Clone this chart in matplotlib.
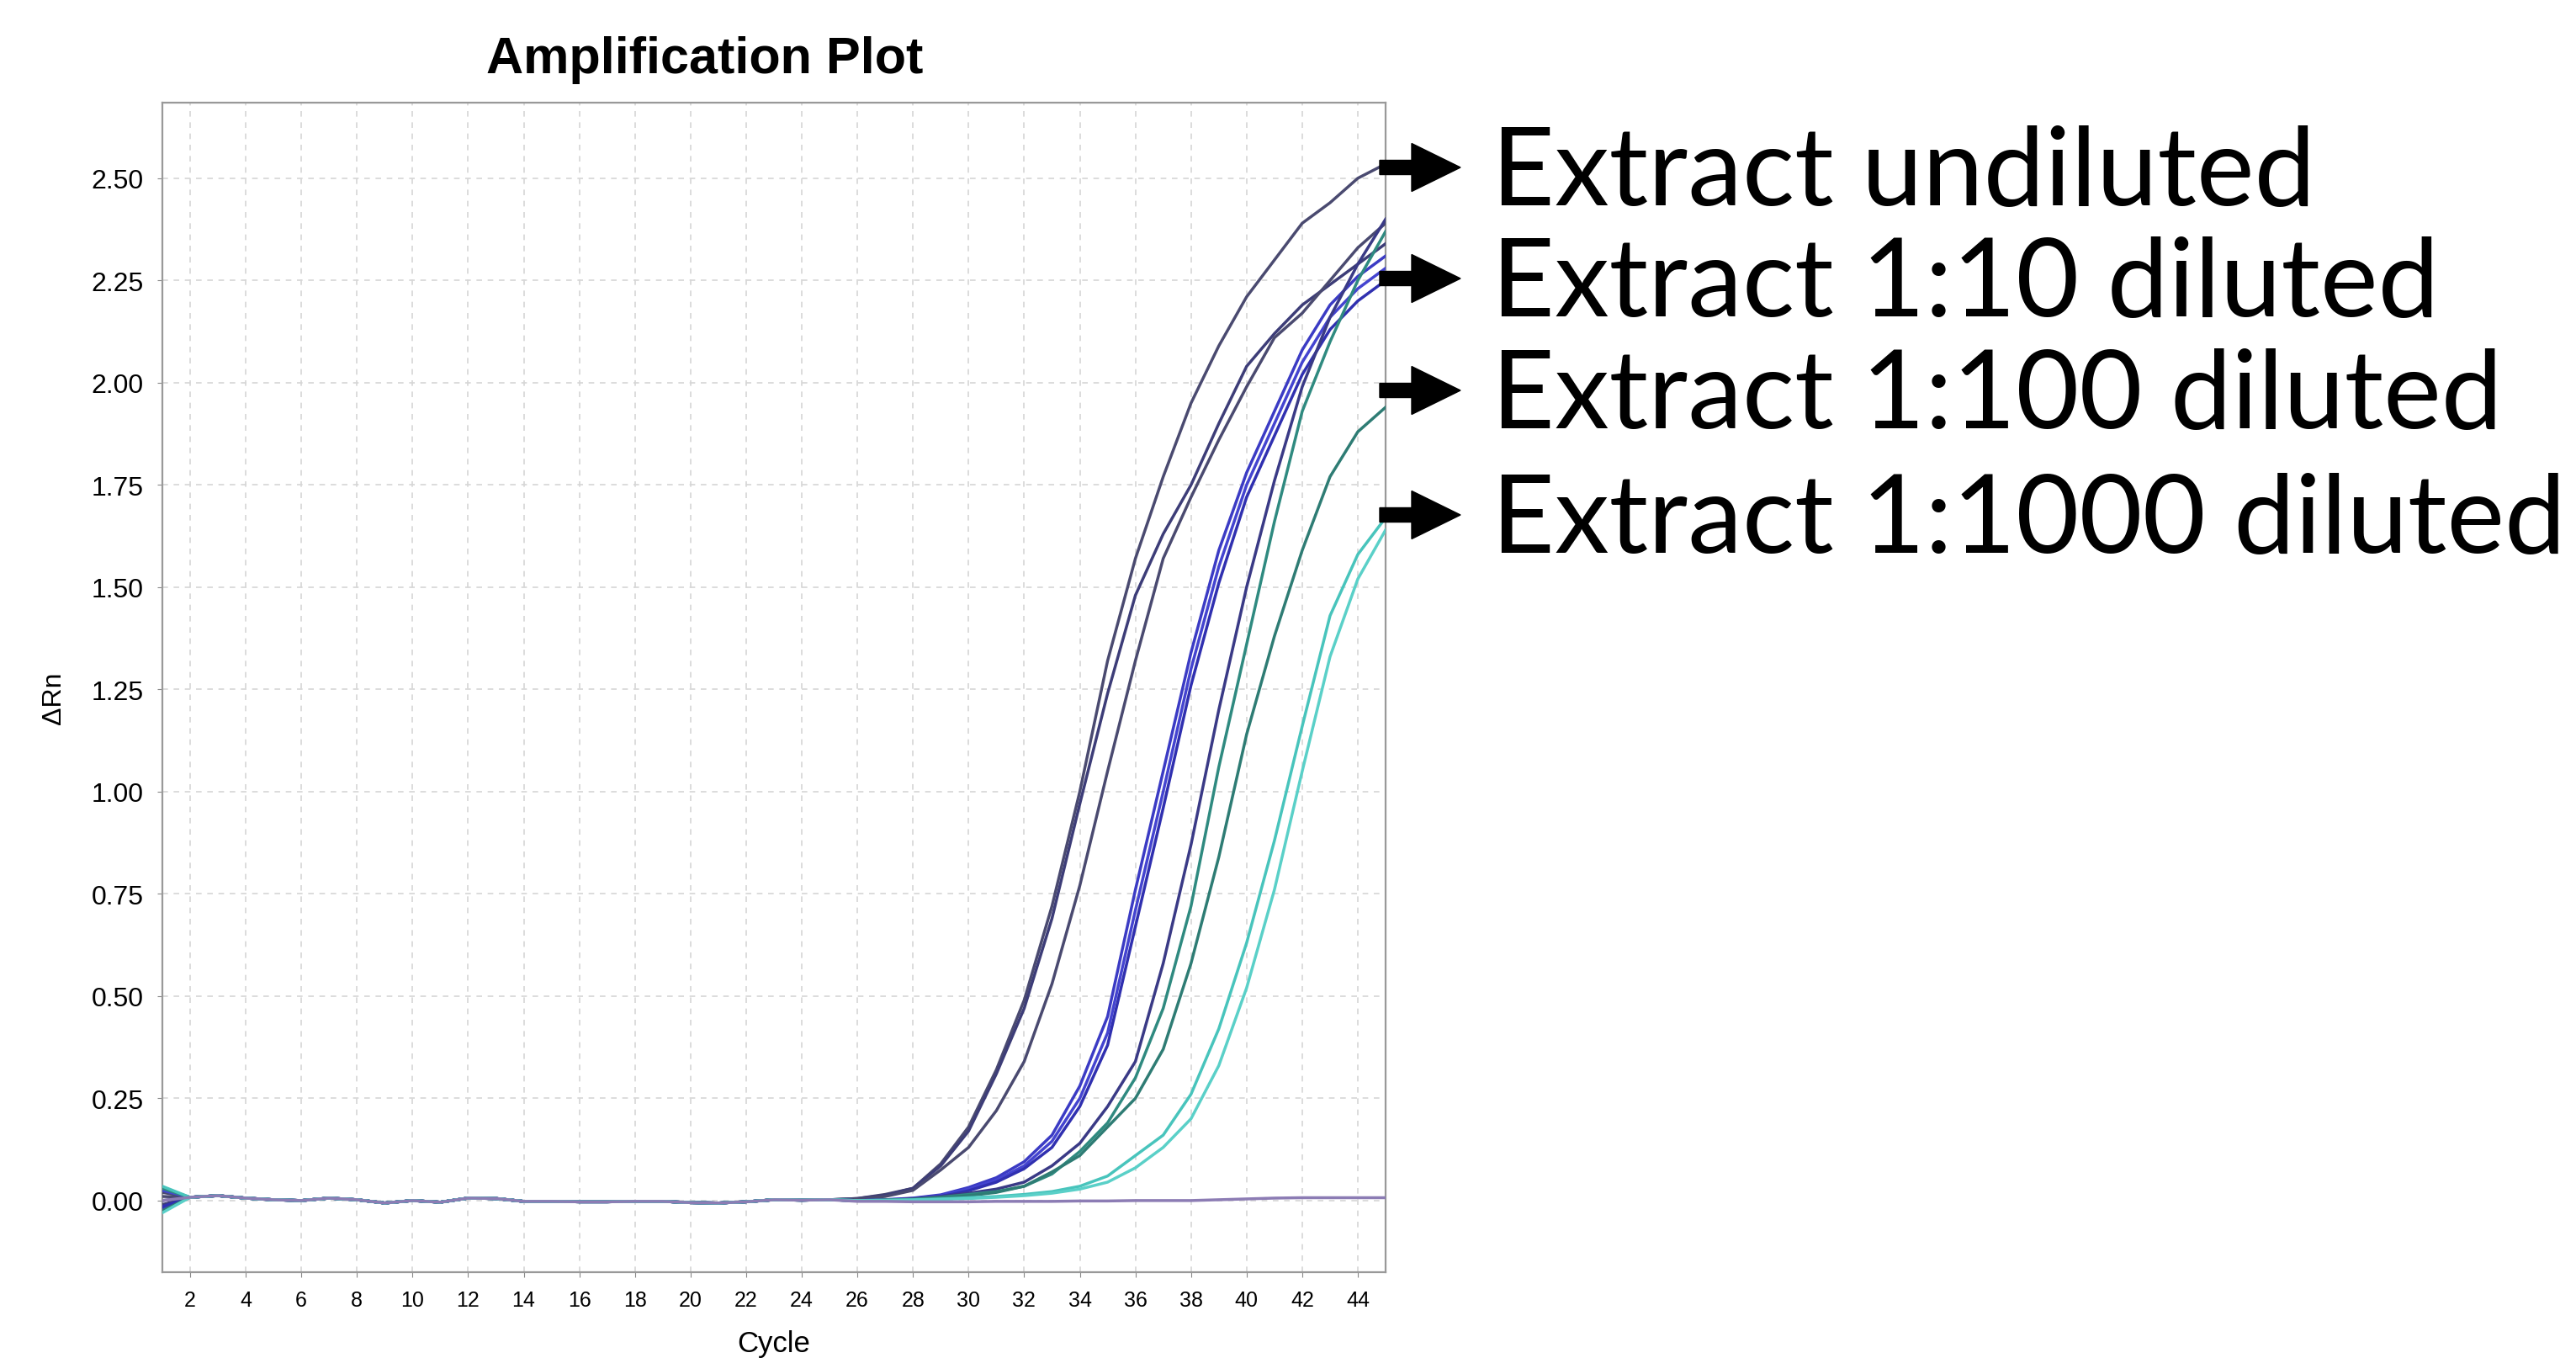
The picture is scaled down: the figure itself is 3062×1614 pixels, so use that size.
import numpy as np
import matplotlib.pyplot as plt
from matplotlib.patches import FancyArrow

# cycles 1..45 ; shared baseline for cycles 1..25, per-well tail for 26..45
CYCLES = list(range(1, 46))

BASELINE = [0.000, 0.008, 0.012, 0.006, 0.002, 0.000, 0.006, 0.002, -0.006, 0.000,
            -0.004, 0.006, 0.005, -0.002, -0.002, -0.003, -0.003, -0.002, -0.002, -0.005,
            -0.006, -0.003, 0.002, 0.001, 0.002]

WELLS = ["U1", "U2", "U3", "B1", "B2", "B3", "D", "T1", "T2", "C1", "C2", "NTC"]

FIRST_CYCLE = [0.010, -0.010, 0.020, -0.020, 0.025, -0.015, 0.000, 0.030, -0.025, 0.035, -0.030, 0.000]

TAILS = [
    [0.005, 0.015, 0.03, 0.09, 0.18, 0.32, 0.49, 0.72, 1.00, 1.32, 1.57, 1.77, 1.95, 2.09, 2.21, 2.30, 2.39, 2.44, 2.50, 2.535],
    [0.005, 0.013, 0.03, 0.085, 0.17, 0.31, 0.47, 0.69, 0.97, 1.24, 1.48, 1.63, 1.75, 1.90, 2.04, 2.12, 2.19, 2.24, 2.29, 2.34],
    [0.004, 0.010, 0.025, 0.075, 0.13, 0.22, 0.34, 0.53, 0.77, 1.05, 1.32, 1.57, 1.72, 1.86, 1.99, 2.11, 2.17, 2.25, 2.33, 2.39],
    [0.0, 0.002, 0.006, 0.014, 0.032, 0.056, 0.095, 0.16, 0.28, 0.45, 0.76, 1.05, 1.34, 1.59, 1.78, 1.93, 2.08, 2.19, 2.26, 2.31],
    [0.0, 0.002, 0.005, 0.012, 0.028, 0.050, 0.085, 0.145, 0.25, 0.41, 0.71, 1.00, 1.30, 1.55, 1.75, 1.90, 2.05, 2.16, 2.23, 2.28],
    [0.0, 0.001, 0.004, 0.010, 0.024, 0.045, 0.078, 0.13, 0.23, 0.38, 0.67, 0.96, 1.26, 1.51, 1.72, 1.87, 2.02, 2.13, 2.20, 2.25],
    [0.0, 0.001, 0.004, 0.010, 0.018, 0.028, 0.045, 0.085, 0.14, 0.23, 0.34, 0.58, 0.87, 1.20, 1.50, 1.76, 1.99, 2.16, 2.29, 2.40],
    [0.0, 0.001, 0.003, 0.008, 0.015, 0.022, 0.035, 0.065, 0.12, 0.19, 0.30, 0.47, 0.72, 1.06, 1.36, 1.66, 1.93, 2.10, 2.25, 2.37],
    [0.0, 0.001, 0.002, 0.006, 0.012, 0.020, 0.035, 0.07, 0.11, 0.18, 0.25, 0.37, 0.58, 0.84, 1.14, 1.38, 1.59, 1.77, 1.88, 1.94],
    [0.0, 0.001, 0.002, 0.004, 0.007, 0.010, 0.015, 0.022, 0.035, 0.06, 0.11, 0.16, 0.26, 0.42, 0.63, 0.88, 1.16, 1.43, 1.58, 1.67],
    [0.0, 0.0, 0.001, 0.003, 0.005, 0.008, 0.012, 0.018, 0.028, 0.045, 0.08, 0.13, 0.20, 0.33, 0.52, 0.76, 1.05, 1.33, 1.52, 1.64],
    [-0.002, -0.002, -0.003, -0.003, -0.003, -0.002, -0.002, -0.002, -0.001, -0.001, 0.0, 0.0, 0.0, 0.002, 0.004, 0.006, 0.007, 0.007, 0.007, 0.007],
]

COLORS = ["#4a4a70", "#3d3d78", "#4a4a70", "#3b3bc4", "#4444d0", "#3030b0",
          "#3a3a86", "#2f8a80", "#2e7c74", "#48c4bc", "#5ad0c8", "#8c7cb4"]

X_TICKS = [2, 4, 6, 8, 10, 12, 14, 16, 18, 20, 22, 24, 26, 28, 30, 32, 34, 36, 38, 40, 42, 44]
Y_TICKS = [0.00, 0.25, 0.50, 0.75, 1.00, 1.25, 1.50, 1.75, 2.00, 2.25, 2.50]

LABELS = ["Extract undiluted", "Extract 1:10 diluted", "Extract 1:100 diluted", "Extract 1:1000 diluted"]

plt.rcParams["font.family"] = ["Liberation Sans", "DejaVu Sans"]

fig = plt.figure(figsize=(30.62, 16.15), dpi=100)
ax = fig.add_axes([0.0630, 0.0632, 0.4749, 0.8607])

for well, first, tail, color in zip(WELLS, FIRST_CYCLE, TAILS, COLORS):
    y = np.array([first] + BASELINE[1:] + tail)
    ax.plot(CYCLES, y, color=color, lw=2.5, zorder=3, solid_joinstyle="round")

ax.set_xlim(1, 45)
ax.set_ylim(-0.175, 2.685)
ax.set_xticks(X_TICKS)
ax.set_yticks(Y_TICKS)
ax.set_yticklabels([f"{v:.2f}" for v in Y_TICKS])
ax.grid(True, color="#d6d6d6", lw=1.2, linestyle=(0, (4, 4)), zorder=0)

for sp in ax.spines.values():
    sp.set_color("#999999")
    sp.set_linewidth(1.6)

ax.tick_params(axis="y", labelsize=23, length=4, color="#888888", pad=12)
ax.tick_params(axis="x", labelsize=18, length=4, color="#888888", pad=11)

fig.text(838 / 3062, 1 - 72 / 1615, "Amplification Plot", fontsize=44,
         fontweight="bold", ha="center", va="center")
fig.text(920 / 3062, 1 - 1598 / 1615, "Cycle", fontsize=25, ha="center", va="center")
fig.text(64 / 3062, 1 - 830 / 1615, "\u0394Rn", fontsize=23, rotation=90,
         ha="center", va="center")

# arrows and labels on the right, in inches
arrow_y = [14.15, 12.83, 11.50, 10.02]
for yy, label in zip(arrow_y, LABELS):
    arr = FancyArrow(16.40, yy, 0.96, 0, width=0.17, head_width=0.57, head_length=0.58,
                     length_includes_head=True, color="black",
                     transform=fig.dpi_scale_trans)
    fig.add_artist(arr)
    fig.text(17.73, yy - 0.44, label, fontsize=93.5, family="Lato", va="baseline",
             ha="left", transform=fig.dpi_scale_trans)

fig.savefig("out.png", dpi=100)
